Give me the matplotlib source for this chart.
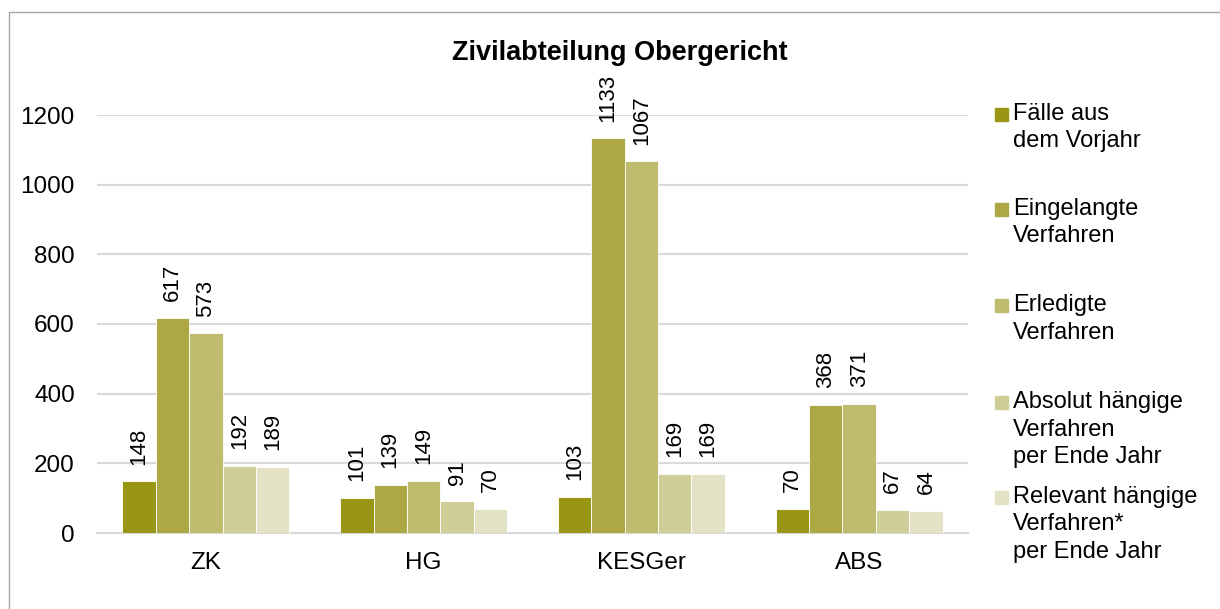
import numpy as np
import matplotlib
matplotlib.use('Agg')
import matplotlib.pyplot as plt
from matplotlib.patches import Rectangle

plt.rcParams['font.family'] = ['Liberation Sans', 'DejaVu Sans']

# data
categories = ['ZK', 'HG', 'KESGer', 'ABS']
series_names = ['Fälle aus\ndem Vorjahr',
                'Eingelangte\nVerfahren',
                'Erledigte\nVerfahren',
                'Absolut hängige\nVerfahren\nper Ende Jahr',
                'Relevant hängige\nVerfahren*\nper Ende Jahr']
faelle_vorjahr = [148, 101, 103, 70]
eingelangt = [617, 139, 1133, 368]
erledigt = [573, 149, 1067, 371]
absolut_haengig = [192, 91, 169, 67]
relevant_haengig = [189, 70, 169, 64]
series = [faelle_vorjahr, eingelangt, erledigt, absolut_haengig, relevant_haengig]
colors = ['#989614', '#aba845', '#bfbb6f', '#d0ce98', '#e3e2c4']

W, H = 1220, 609
fig = plt.figure(figsize=(W / 100, H / 100), dpi=100)
ax = fig.add_axes([97 / W, 1 - 533 / H, (968 - 97) / W, (533 - 115) / H])

x = np.arange(len(categories))
n = len(series)
bw = 0.767 / n
for i, vals in enumerate(series):
    pos = x + (i - (n - 1) / 2) * bw
    bars = ax.bar(pos, vals, width=bw, color=colors[i], edgecolor='white',
                  linewidth=0.6, zorder=3)
    for b, v in zip(bars, vals):
        ax.annotate(str(v), (b.get_x() + b.get_width() / 2, v),
                    xytext=(0, 12), textcoords='offset points',
                    rotation=90, ha='center', va='bottom', fontsize=16,
                    annotation_clip=False)

ax.set_xlim(-0.5, len(categories) - 0.5)
ax.set_ylim(0, 1200)
ax.set_yticks(range(0, 1201, 200))
ax.set_xticks(x)
ax.set_xticklabels(categories)
ax.tick_params(axis='both', length=0, labelsize=17.5)
ax.tick_params(axis='y', pad=16)
ax.tick_params(axis='x', pad=14)
ax.grid(axis='y', color='#d9d9d9', linewidth=1.5, zorder=0)
for s in ['top', 'right', 'left']:
    ax.spines[s].set_visible(False)
ax.spines['bottom'].set_color('#d9d9d9')
ax.spines['bottom'].set_linewidth(1.5)

fig.text(620 / W, 1 - 53 / H, 'Zivilabteilung Obergericht', ha='center',
         va='center', fontsize=19.5, fontweight='bold')

# legend drawn by hand to keep the spacing of the original
first_rows = [114, 209, 305, 402, 497]
for name, col, y0 in zip(series_names, colors, first_rows):
    fig.add_artist(Rectangle((995 / W, 1 - (y0 + 6.5) / H), 13 / W, 13 / H,
                             transform=fig.transFigure, color=col))
    for k, line in enumerate(name.split('\n')):
        fig.text(1013 / W, 1 - (y0 + k * 27.5) / H, line, ha='left',
                 va='center', fontsize=17)

# outer frame
fig.add_artist(Rectangle((9 / W, -0.1), 2, 1 - 12 / H + 0.1,
                         transform=fig.transFigure, fill=False,
                         edgecolor='#a6a6a6', linewidth=1))

fig.savefig('out.png', dpi=100)
